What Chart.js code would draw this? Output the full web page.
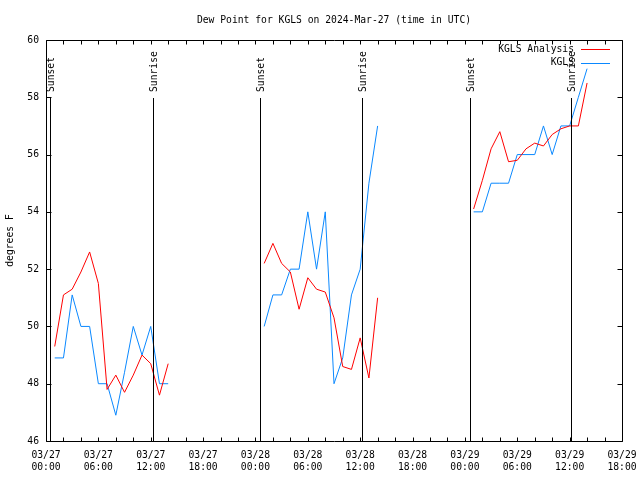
<!DOCTYPE html>
<html>
<head>
<meta charset="utf-8">
<script src="https://cdn.jsdelivr.net/npm/chart.js@4/dist/chart.umd.min.js"></script>
<style>
html,body{margin:0;padding:0;background:#fff;}
canvas{display:block;}
</style>
</head>
<body>
<canvas id="c" width="640" height="480"></canvas>
<script>
// Hours since 2024-03-27 00:00 UTC
const hours = [1,2,3,4,5,6,7,8,9,10,11,12,13,14,
               25,26,27,28,29,30,31,32,33,34,35,36,37,38,
               49,50,51,52,53,54,55,56,57,58,59,60,61,62];
const analysisValues = [49.3,51.1,51.3,51.9,52.6,51.5,47.8,48.3,47.7,48.3,49.0,48.7,47.6,48.7,
                        52.2,52.9,52.2,51.9,50.6,51.7,51.3,51.2,50.3,48.6,48.5,49.6,48.2,51.0,
                        54.1,55.1,56.2,56.8,55.75,55.8,56.2,56.4,56.3,56.7,56.9,57.0,57.0,58.5];
const observedValues = [48.9,48.9,51.1,50.0,50.0,48.0,48.0,46.9,48.4,50.0,49.0,50.0,48.0,48.0,
                        50.0,51.1,51.1,52.0,52.0,54.0,52.0,54.0,48.0,48.9,51.1,52.0,55.0,57.0,
                        54.0,54.0,55.0,55.0,55.0,56.0,56.0,56.0,57.0,56.0,57.0,57.0,58.0,59.0];
const seriesNames = ['KGLS Analysis','KGLS'];
const xTickDates = ['03/27','03/27','03/27','03/27','03/28','03/28','03/28','03/28','03/29','03/29','03/29','03/29'];
const xTickTimes = ['00:00','06:00','12:00','18:00','00:00','06:00','12:00','18:00','00:00','06:00','12:00','18:00'];
const eventHours = [0.5,12.27,24.55,36.25,48.55,60.2];
const eventLabels = ['Sunset','Sunrise','Sunset','Sunrise','Sunset','Sunrise'];
const titleText = 'Dew Point for KGLS on 2024-Mar-27 (time in UTC)';
const yTitle = 'degrees F';

const FONT = "'DejaVu Sans Mono', monospace";
const FS = 9.7;

function toPoints(xs, ys){
  const pts = [];
  for (let i = 0; i < xs.length; i++) {
    if (i > 0 && xs[i] - xs[i-1] > 1) pts.push({x: (xs[i] + xs[i-1]) / 2, y: null});
    pts.push({x: xs[i], y: ys[i]});
  }
  return pts;
}

const decor = {
  id: 'decor',
  afterDraw(chart){
    const ctx = chart.ctx, a = chart.chartArea;
    const xs = chart.scales.x, ys = chart.scales.y;
    ctx.save();
    ctx.strokeStyle = '#000';
    ctx.lineWidth = 1;
    const L = Math.round(a.left)+0.5, R = Math.round(a.right)+0.5, T = Math.round(a.top)+0.5, B = Math.round(a.bottom)+0.5;
    ctx.beginPath();
    ctx.rect(L, T, R-L, B-T);
    for (let h = 0; h <= 66; h += 2) {
      const px = Math.round(xs.getPixelForValue(h)) + 0.5;
      ctx.moveTo(px, B); ctx.lineTo(px, B-4);
      ctx.moveTo(px, T); ctx.lineTo(px, T+4);
    }
    for (let v = 46; v <= 60; v += 2) {
      const py = Math.round(ys.getPixelForValue(v)) + 0.5;
      ctx.moveTo(L, py); ctx.lineTo(L+5, py);
      ctx.moveTo(R, py); ctx.lineTo(R-5, py);
    }
    ctx.stroke();
    ctx.font = FS + 'px ' + FONT;
    ctx.fillStyle = '#000';
    eventHours.forEach((h, i) => {
      const px = Math.round(xs.getPixelForValue(h)) + 0.5;
      ctx.beginPath();
      ctx.moveTo(px, 98); ctx.lineTo(px, B);
      ctx.stroke();
      ctx.save();
      ctx.translate(px + 1, 92);
      ctx.rotate(-Math.PI/2);
      ctx.textAlign = 'left';
      ctx.textBaseline = 'middle';
      ctx.fillText(eventLabels[i], 0, 0);
      ctx.restore();
    });
    ctx.textAlign = 'right';
    ctx.textBaseline = 'middle';
    chart.data.datasets.forEach((ds, i) => {
      const y = 49 + i * 13.5;
      ctx.fillStyle = '#000';
      ctx.fillText(ds.label, 574, y);
      ctx.strokeStyle = ds.borderColor;
      ctx.beginPath();
      ctx.moveTo(581, Math.round(y)+0.5); ctx.lineTo(610, Math.round(y)+0.5);
      ctx.stroke();
    });
    ctx.fillStyle = '#000';
    ctx.textAlign = 'center';
    ctx.fillText(titleText, (a.left + a.right)/2, 20);
    ctx.restore();
  }
};

new Chart(document.getElementById('c'), {
  type: 'line',
  data: {
    datasets: [
      {label: seriesNames[0], data: toPoints(hours, analysisValues), borderColor: '#ff0000', borderWidth: 1, pointRadius: 0, tension: 0, spanGaps: false, fill: false},
      {label: seriesNames[1], data: toPoints(hours, observedValues), borderColor: '#0a88ff', borderWidth: 1, pointRadius: 0, tension: 0, spanGaps: false, fill: false}
    ]
  },
  options: {
    responsive: false,
    animation: false,
    devicePixelRatio: 1,
    layout: {padding: {top: 40, right: 18, left: 0, bottom: 0}},
    plugins: {legend: {display: false}, title: {display: false}, tooltip: {enabled: false}},
    scales: {
      x: {
        type: 'linear', min: 0, max: 66,
        grid: {display: false, drawTicks: false},
        border: {display: false},
        afterFit: s => { s.height = 39; s.paddingLeft = 0; s.paddingRight = 0; },
        ticks: {
          stepSize: 6, autoSkip: false, maxRotation: 0, padding: 8, color: '#000',
          font: {family: FONT, size: FS, lineHeight: 1.25},
          callback: (v) => { const i = Math.round(v/6); return [xTickDates[i], xTickTimes[i]]; }
        }
      },
      y: {
        min: 46, max: 60,
        grid: {display: false, drawTicks: false},
        border: {display: false},
        afterFit: s => { s.width = 46; s.paddingTop = 0; s.paddingBottom = 0; },
        title: {display: true, text: yTitle, color: '#000', font: {family: FONT, size: FS}, padding: {top: 5, bottom: 0}},
        ticks: {stepSize: 2, padding: 7, color: '#000', font: {family: FONT, size: FS}}
      }
    }
  },
  plugins: [decor]
});
</script>
</body>
</html>
